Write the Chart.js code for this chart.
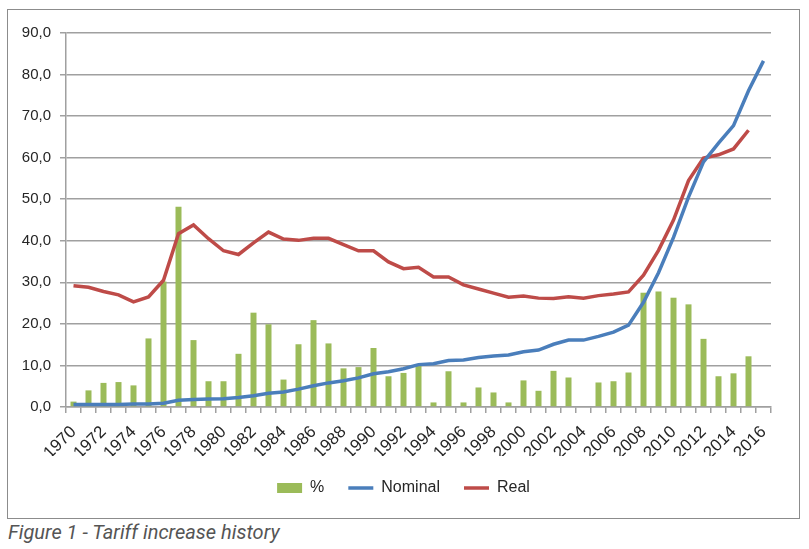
<!DOCTYPE html>
<html>
<head>
<meta charset="utf-8">
<script src="https://cdn.jsdelivr.net/npm/chart.js@4"></script>
<style>
  html, body { margin: 0; padding: 0; background: #fff; }
  #box { position: absolute; left: 7px; top: 9px; width: 791px; height: 508px; border: 1px solid #8c8c8c; }
  #caption { position: absolute; left: 8px; top: 520px; font-family: Roboto, sans-serif; font-style: italic; font-weight: 400; font-size: 20px; color: #555; }
</style>
</head>
<body>
<div id="box"><canvas id="c" width="791" height="508"></canvas></div>
<div id="caption">Figure 1 - Tariff increase history</div>
<script>
const years = [];
for (let y = 1970; y <= 2016; y++) years.push(String(y));

const pct = [1.3, 4.0, 5.8, 6.0, 5.2, 16.5, 30.2, 48.2, 16.1, 6.2,
             6.2, 12.8, 22.7, 19.9, 6.6, 15.1, 20.9, 15.3, 9.3, 9.6,
             14.2, 7.4, 8.2, 9.9, 1.1, 8.6, 1.1, 4.7, 3.5, 1.1,
             6.4, 3.9, 8.7, 7.1, 0, 5.9, 6.2, 8.3, 27.5, 27.8,
             26.3, 24.7, 16.4, 7.4, 8.1, 12.2, null];

const nominal = [0.6, 0.6, 0.6, 0.6, 0.7, 0.7, 0.9, 1.6, 1.8, 1.9,
                 2.0, 2.3, 2.7, 3.3, 3.6, 4.3, 5.1, 5.8, 6.3, 7.0,
                 8.0, 8.5, 9.2, 10.2, 10.4, 11.2, 11.3, 11.9, 12.3, 12.5,
                 13.3, 13.7, 15.1, 16.1, 16.1, 17.0, 18.0, 19.7, 25.2, 32.3,
                 40.8, 50.5, 59.0, 63.5, 67.7, 76.1, 83.3];

const real = [29.2, 28.8, 27.8, 27.0, 25.3, 26.5, 30.5, 41.7, 43.8, 40.5,
              37.6, 36.7, 39.5, 42.1, 40.4, 40.1, 40.6, 40.6, 39.1, 37.6,
              37.6, 34.9, 33.3, 33.6, 31.3, 31.3, 29.4, 28.4, 27.4, 26.4,
              26.7, 26.2, 26.1, 26.5, 26.2, 26.8, 27.2, 27.7, 31.7, 37.7,
              45.0, 54.5, 59.9, 60.7, 62.1, 66.6, null];

const yTicks = [0, 10, 20, 30, 40, 50, 60, 70, 80, 90];

const GRID = '#a0a0a0';
const TXT = '#262626';

new Chart(document.getElementById('c'), {
  data: {
    labels: years,
    datasets: [
      { type: 'bar', label: '%', data: pct, backgroundColor: '#9BBB59', borderWidth: 0,
        categoryPercentage: 1.0, barPercentage: 0.4, order: 3, pointStyle: 'rect' },
      { type: 'line', label: 'Nominal', data: nominal, borderColor: '#4A7EBB', backgroundColor: '#4A7EBB',
        borderWidth: 3.5, pointRadius: 0, tension: 0, order: 1, pointStyle: 'line' },
      { type: 'line', label: 'Real', data: real, borderColor: '#BE4B48', backgroundColor: '#BE4B48',
        borderWidth: 3.5, pointRadius: 0, tension: 0, order: 2, pointStyle: 'line' }
    ]
  },
  options: {
    responsive: false,
    animation: false,
    layout: { padding: { top: 23, right: 0, left: 0, bottom: 12 } },
    plugins: {
      tooltip: { enabled: false },
      legend: {
        position: 'bottom',
        labels: {
          usePointStyle: true,
          pointStyleWidth: 25,
          boxHeight: 10,
          color: TXT,
          font: { family: 'Liberation Sans', size: 16 },
          padding: 24,
          sort: (a, b) => a.datasetIndex - b.datasetIndex
        }
      }
    },
    scales: {
      x: {
        offset: true,
        grid: { offset: true, drawOnChartArea: false, drawTicks: true, tickLength: 6, color: GRID, lineWidth: 1.5 },
        border: { color: GRID, width: 1.5 },
        ticks: {
          autoSkip: false, maxRotation: 45, minRotation: 45, color: TXT, padding: 9,
          font: { family: 'Liberation Sans', size: 17 },
          callback: function (v, i) { return i % 2 === 0 ? years[i] : ''; }
        },
        afterFit: (s) => { s.height = 49; }
      },
      y: {
        min: 0, max: 90,
        afterBuildTicks: (s) => { s.ticks = yTicks.map(v => ({ value: v })); },
        grid: { color: GRID, lineWidth: 1.5, tickLength: 6 },
        border: { color: GRID, width: 1.5 },
        ticks: {
          color: TXT, padding: 9,
          font: { family: 'Liberation Sans', size: 15 },
          callback: (v) => v.toFixed(1).replace('.', ',')
        },
        afterFit: (s) => { s.width = 58; }
      },
      yRight: {
        position: 'right',
        min: 0, max: 90,
        grid: { display: false },
        border: { display: false },
        ticks: { display: false },
        afterFit: (s) => { s.width = 28; }
      }
    }
  }
});
</script>
</body>
</html>
